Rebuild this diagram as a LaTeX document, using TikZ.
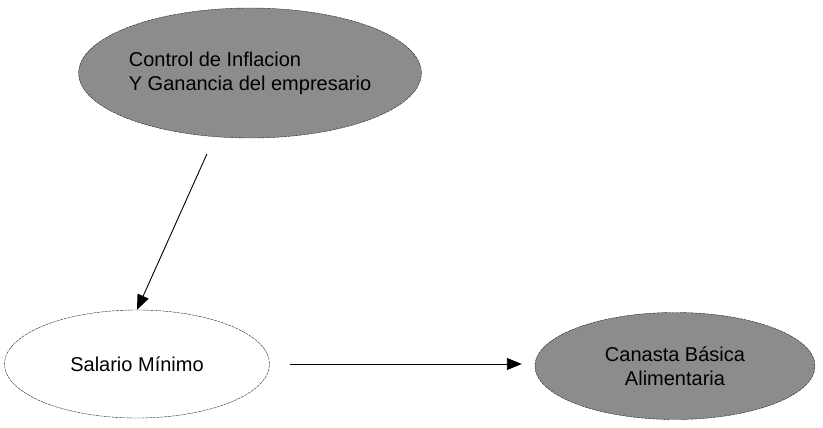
\documentclass[tikz,border=0pt]{standalone}
\usepackage{fontspec}
\setmainfont{Liberation Sans}
\usetikzlibrary{shapes.geometric,arrows.meta}

\begin{document}
\begin{tikzpicture}[x=1pt,y=-1pt,
    oval/.style={ellipse,draw=black!85,thin,dash pattern=on 3pt off 0.8pt,
      inner sep=0pt,font=\fontsize{20}{24}\selectfont},
    shaded/.style={oval,fill=black!45},
    arr/.style={-{Triangle[length=15pt,width=12pt]},line width=0.9pt}]
      \useasboundingbox (0,0) rectangle (823,428);
      \node[shaded,minimum width=310,minimum height=130,align=left] (ctrl) at (250,73)
        {Control de Inflacion\\Y Ganancia del empresario};
      \node[oval,minimum width=265,minimum height=108] (sal) at (137,364) {Salario Mínimo};
      \node[shaded,minimum width=280,minimum height=107,align=center] (can) at (675,366)
        {Canasta Básica\\Alimentaria};
      \draw[arr,shorten <=19pt] (ctrl.-119) -- (sal.north);
      \draw[arr,shorten <=20pt,shorten >=13pt] (sal.east) -- (sal.east -| can.west);
    \end{tikzpicture}
\end{document}
